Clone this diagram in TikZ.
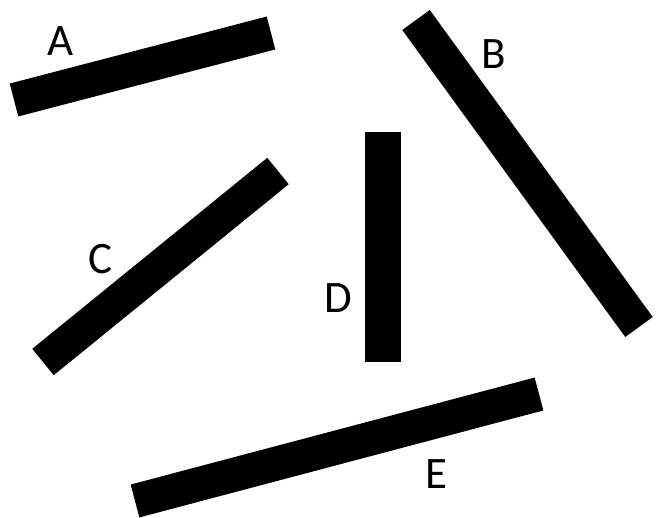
\documentclass[tikz,border=0pt]{standalone}
\usepackage{fontspec}
\setmainfont{Carlito}

\tikzset{
  bar/.style={line width=34pt, line cap=butt},
  lbl/.style={font=\fontsize{45}{45}\selectfont, inner sep=0pt}
}

\begin{document}
\begin{tikzpicture}[x=1pt,y=-1pt]
\useasboundingbox (0,0) rectangle (666,518);
\coordinate (a1) at (14,100);
\coordinate (a2) at (271,33);
\coordinate (b1) at (416,20);
\coordinate (b2) at (639,327);
\coordinate (c1) at (278,171);
\coordinate (c2) at (43,362);
\coordinate (d1) at (383,132);
\coordinate (d2) at (383,362);
\coordinate (e1) at (135,501);
\coordinate (e2) at (539,394);
\draw[bar] (a1) -- (a2);
\draw[bar] (b1) -- (b2);
\draw[bar] (c1) -- (c2);
\draw[bar, line width=36pt] (d1) -- (d2);
\draw[bar] (e1) -- (e2);
\node[lbl] (la) at (61,41) {A};
\node[lbl] (lb) at (494,54) {B};
\node[lbl] (lc) at (100,259) {C};
\node[lbl] (ld) at (338,298) {D};
\node[lbl] (le) at (436,474) {E};
\end{tikzpicture}
\end{document}
